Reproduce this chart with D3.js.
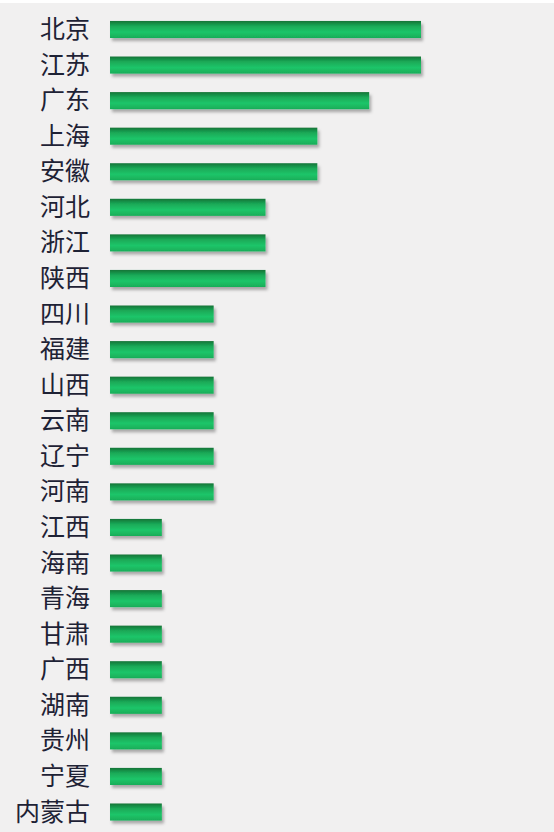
<!DOCTYPE html>
<html>
<head>
<meta charset="utf-8">
<script src="https://cdn.jsdelivr.net/npm/d3@7"></script>
<style>
  html, body { margin: 0; padding: 0; background: #fff; }
  svg { display: block; }
</style>
</head>
<body>
<svg id="chart"></svg>
<script>
  // provinces, top to bottom
  const provinces = ['北京', '江苏', '广东', '上海', '安徽', '河北', '浙江', '陕西', '四川', '福建',
    '山西', '云南', '辽宁', '河南', '江西', '海南', '青海', '甘肃', '广西', '湖南', '贵州', '宁夏', '内蒙古'];
  const counts = [6, 6, 5, 4, 4, 3, 3, 3, 2, 2, 2, 2, 2, 2, 1, 1, 1, 1, 1, 1, 1, 1, 1];

  const width = 554, height = 832;
  const svg = d3.select('#chart').attr('width', width).attr('height', height);

  // background panel
  svg.append('rect').attr('x', 0).attr('y', 3).attr('width', width).attr('height', height - 3)
    .attr('fill', '#f1f0f0');

  const defs = svg.append('defs');
  const grad = defs.append('linearGradient').attr('id', 'barGrad')
    .attr('x1', 0).attr('y1', 0).attr('x2', 0).attr('y2', 1);
  grad.append('stop').attr('offset', '0%').attr('stop-color', '#137437');
  grad.append('stop').attr('offset', '30%').attr('stop-color', '#1aa957');
  grad.append('stop').attr('offset', '65%').attr('stop-color', '#1fc569');
  grad.append('stop').attr('offset', '100%').attr('stop-color', '#18ad58');

  const shadow = defs.append('filter').attr('id', 'shadow')
    .attr('x', '-10%').attr('y', '-30%').attr('width', '130%').attr('height', '190%');
  shadow.append('feDropShadow').attr('dx', 2).attr('dy', 3).attr('stdDeviation', 1.8)
    .attr('flood-color', '#000').attr('flood-opacity', 0.3);

  const x = d3.scaleLinear().domain([0, 6]).range([110, 421]);
  const y = d3.scaleBand().domain(provinces).range([11.7, 829.8])
    .paddingInner(0.52).paddingOuter(0.26);

  svg.selectAll('.bar')
    .data(provinces)
    .join('rect')
    .attr('class', 'bar')
    .attr('x', x(0))
    .attr('y', d => y(d))
    .attr('width', (d, i) => x(counts[i]) - x(0))
    .attr('height', y.bandwidth())
    .attr('fill', 'url(#barGrad)')
    .attr('filter', 'url(#shadow)');

  const axis = svg.append('g')
    .attr('transform', 'translate(100,0)')
    .call(d3.axisLeft(y).tickSize(0).tickPadding(10));
  axis.select('.domain').remove();
  axis.selectAll('text')
    .attr('font-family', '"Noto Sans CJK SC", sans-serif')
    .attr('font-size', 25)
    .attr('dy', '0.34em')
    .attr('fill', '#1e2235');
</script>
</body>
</html>
